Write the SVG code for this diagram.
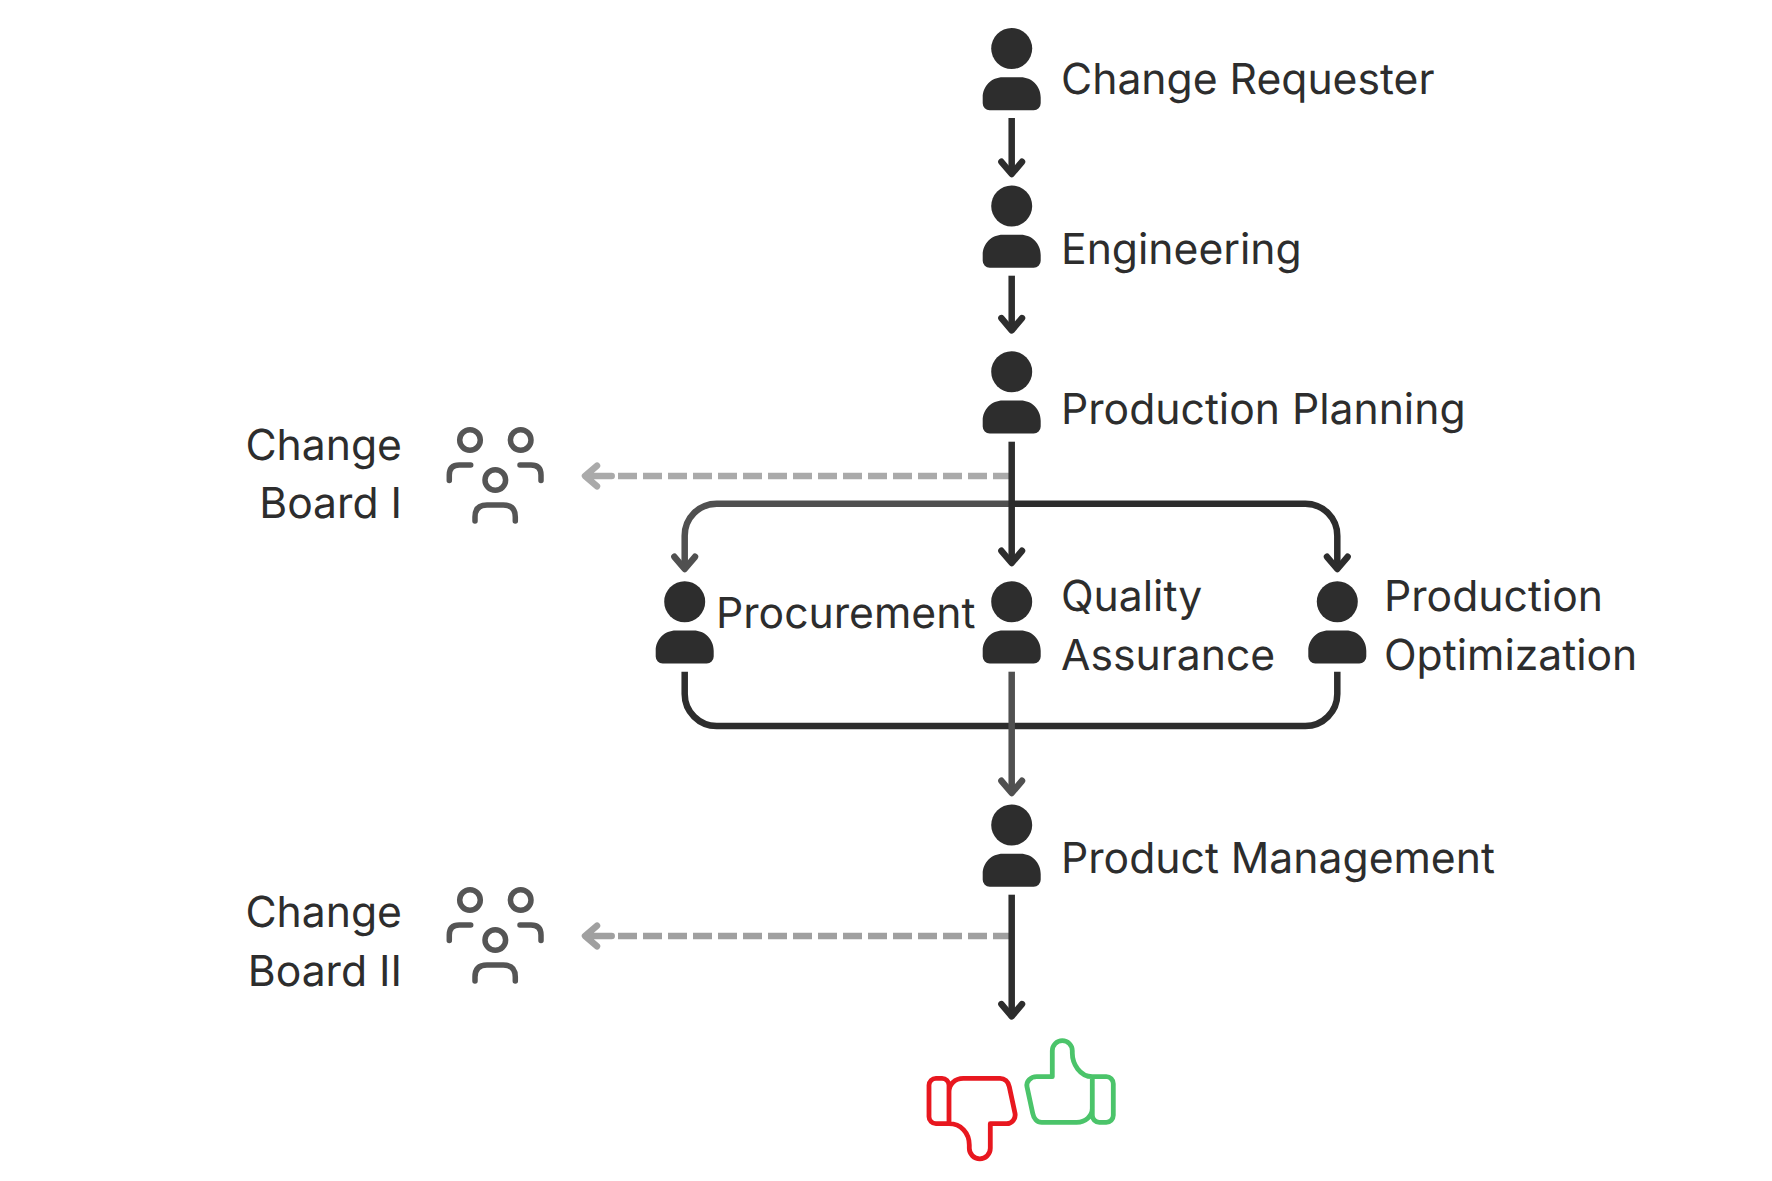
<svg xmlns="http://www.w3.org/2000/svg" width="1772" height="1181" viewBox="0 0 1772 1181">
<style>
text{font-family:"Inter","Liberation Sans",sans-serif;font-size:42.67px;fill:#2d2d2d;text-rendering:geometricPrecision}
.e{text-anchor:end}
.c{fill:none;stroke-width:6.500;stroke-linejoin:round}
.head{stroke-linecap:round}
.dark{stroke:#2d2d2d}
.mid{stroke:#505050}
.icon{fill:none;stroke:#555;stroke-width:5.500;stroke-linecap:round}
.thumb{fill:none;stroke-width:4.800;stroke-linejoin:round}
</style>
<defs>
<g id="person"><circle cx="0" cy="0" r="20.500" fill="#2d2d2d"/><path fill="#2d2d2d" d="M-22 61.800H22a7 7 0 0 0 7-7V49C29 37.500 20 28.800 9 28.800H-9C-20 28.800-29 37.500-29 49V54.800a7 7 0 0 0 7 7Z"/></g>
<g id="group"><circle cx="470" cy="440" r="10.300"/><circle cx="520.700" cy="440" r="10.300"/><circle cx="495.300" cy="480" r="10.300"/><path d="M449.300 480.500V475Q449.300 465 459.300 465H470.700M541 480.500V475Q541 465 531 465H520M475 521V517Q475 505 487 505H503.300Q515.300 505 515.300 517V521"/></g>
<path id="ah" class="c head" d="M-10.300-12.200L0 0 10.300-12.200"/>
</defs>
<g id="connectors">
<path class="c dark" d="M1011.700 118V173"/><use href="#ah" class="dark" x="1011.700" y="174"/>
<path class="c dark" d="M1011.700 275.700V329"/><use href="#ah" class="dark" x="1011.700" y="330.300"/>
<path class="c" d="M1009 476H612" stroke="#aaa" stroke-width="6.500" stroke-dasharray="19 6" stroke-dashoffset="3"/><path class="c head" stroke="#aaa" d="M597 465.700L585 476 597 486.300M611.700 476H586"/>
<path class="c" d="M1009 936H612" stroke="#a0a0a0" stroke-width="6.500" stroke-dasharray="19 6" stroke-dashoffset="3"/><path class="c head" stroke="#a0a0a0" d="M597 925.700L585 936 597 946.300M611.700 936H586"/>
<path class="c mid" d="M1011.700 503.700H716.700A32 32 0 0 0 684.700 535.700V568"/><use href="#ah" class="mid" x="684.700" y="569"/>
<path class="c dark" d="M1011.700 503.700H1305.300A32 32 0 0 1 1337.300 535.700V568"/><use href="#ah" class="dark" x="1337.300" y="569"/>
<path class="c dark" d="M684.700 671.700V694A32 32 0 0 0 716.700 726H1305.300A32 32 0 0 0 1337.300 694V671.700"/>
<path class="c mid" d="M1011.700 671.700V792"/><use href="#ah" class="mid" x="1011.700" y="793"/>
<path class="c dark" d="M1011.700 441.700V562"/><use href="#ah" class="dark" x="1011.700" y="563"/>
<path class="c dark" d="M1011.700 894.700V1015"/><use href="#ah" class="dark" x="1011.700" y="1016.300"/>
</g>
<g id="change-requester"><use href="#person" x="1011.700" y="48.500"/><text x="1061" y="93.800">Change Requester</text></g>
<g id="engineering"><use href="#person" x="1011.700" y="206"/><text x="1061" y="263.800">Engineering</text></g>
<g id="production-planning"><use href="#person" x="1011.700" y="371.700"/><text x="1061" y="423.500">Production Planning</text></g>
<g id="procurement"><use href="#person" x="684.700" y="601.700"/><text x="716" y="627.700">Procurement</text></g>
<g id="quality-assurance"><use href="#person" x="1011.700" y="601.700"/><text x="1061" y="610.500">Quality</text><text x="1061" y="669.500">Assurance</text></g>
<g id="production-optimization"><use href="#person" x="1337.300" y="601.700"/><text x="1384" y="610.500">Production</text><text x="1384" y="669.500">Optimization</text></g>
<g id="product-management"><use href="#person" x="1011.700" y="825"/><text x="1061" y="872.700">Product Management</text></g>
<g id="change-board-1"><use href="#group" class="icon"/><text class="e" x="402" y="459.800">Change</text><text class="e" x="402" y="517.700">Board I</text></g>
<g id="change-board-2"><use href="#group" class="icon" y="460"/><text class="e" x="402" y="926.900">Change</text><text class="e" x="402" y="985.500">Board II</text></g>
<g id="rejected"><path class="thumb" stroke="#e8171f" d="M949 1123.700H936a7 7 0 0 1-7-7V1085.300a7 7 0 0 1 7-7H942a7 7 0 0 1 7 7V1123.700C961 1123.700 969.300 1133 969.300 1145V1148.300A10.500 10.500 0 0 0 990.300 1148.300V1123.700H1006.700C1012 1123.700 1016 1118.500 1015 1113.300L1009.300 1086.700C1008.300 1081.500 1004.500 1078.300 1000 1078.300H963.300C955 1078.300 949 1084 949 1092"/></g>
<g id="approved"><path class="thumb" stroke="#4bc46a" d="M1092.300 1076.700H1106.300a7 7 0 0 1 7 7V1115.300a7 7 0 0 1-7 7H1099.300a7 7 0 0 1-7-7V1076.700C1080 1076.700 1072.300 1064 1072.300 1053V1050.700A10 10 0 0 0 1052.300 1050.700V1076.700H1036.700C1030.500 1076.700 1026 1081.500 1027 1086.700L1032.700 1113.300C1033.700 1118.500 1037 1122.300 1041.700 1122.300H1076.700C1085.500 1122.300 1092.300 1116 1092.300 1108.300"/></g>
</svg>
